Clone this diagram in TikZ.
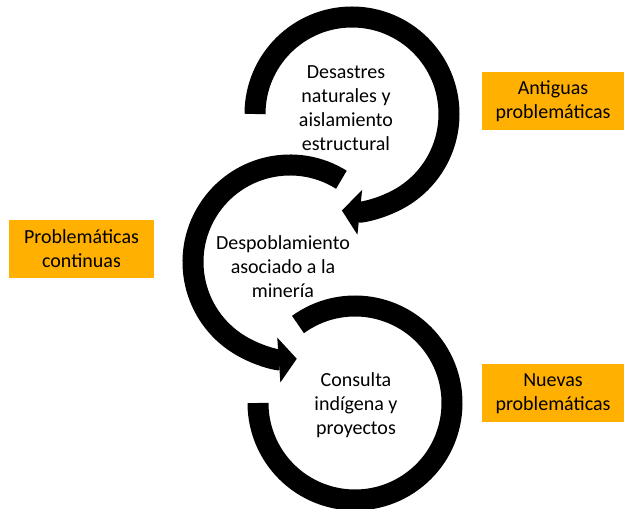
\documentclass[tikz,border=0pt]{standalone}
\usepackage{fontspec}
\setmainfont{Carlito}
\usepackage{tikz}
\usetikzlibrary{arrows.meta,positioning}
\definecolor{boxorange}{RGB}{255,176,0}

\begin{document}
\begin{tikzpicture}[x=1pt,y=1pt,
  ring/.style={line width=21pt},
  ringarrow/.style={ring,-{Triangle[length=18pt,width=44pt]}},
  txt/.style={align=center,text=black,font=\fontsize{20}{24}\selectfont},
  tag/.style={fill=boxorange,minimum width=142pt,minimum height=58pt,
    align=center,text=black,font=\fontsize{20}{24}\selectfont}]
   \useasboundingbox (0,0) rectangle (625,509);
   \coordinate (c_1) at (352,395);
   \coordinate (c_2) at (290,247);
   \coordinate (c_3) at (355,106);

   \node[txt] (t_1) at (346,401) {Desastres\\naturales y\\aislamiento\\estructural};
   \node[txt] (t_2) at (283,242) {Despoblamiento\\asociado a la\\minería};
   \node[txt] (t_3) at (356,104) {Consulta\\indígena y\\proyectos};

   \node[tag] (antiguas) at (553,408) {Antiguas\\problemáticas};
   \node[tag,minimum width=145pt] (continuas) at (81.5,260) {Problemáticas\\continuas};
   \node[tag] (nuevas) at (553,115.5) {Nuevas\\problemáticas};

   \draw[ringarrow] (c_1) ++(180:97) arc[start angle=180,end angle=-96,radius=97];
   \draw[ringarrow] (c_2) ++(58:97) arc[start angle=58,end angle=274,radius=97];
   \draw[ring] (c_3) ++(126:97) arc[start angle=126,end angle=-180,radius=97];
\end{tikzpicture}
\end{document}
